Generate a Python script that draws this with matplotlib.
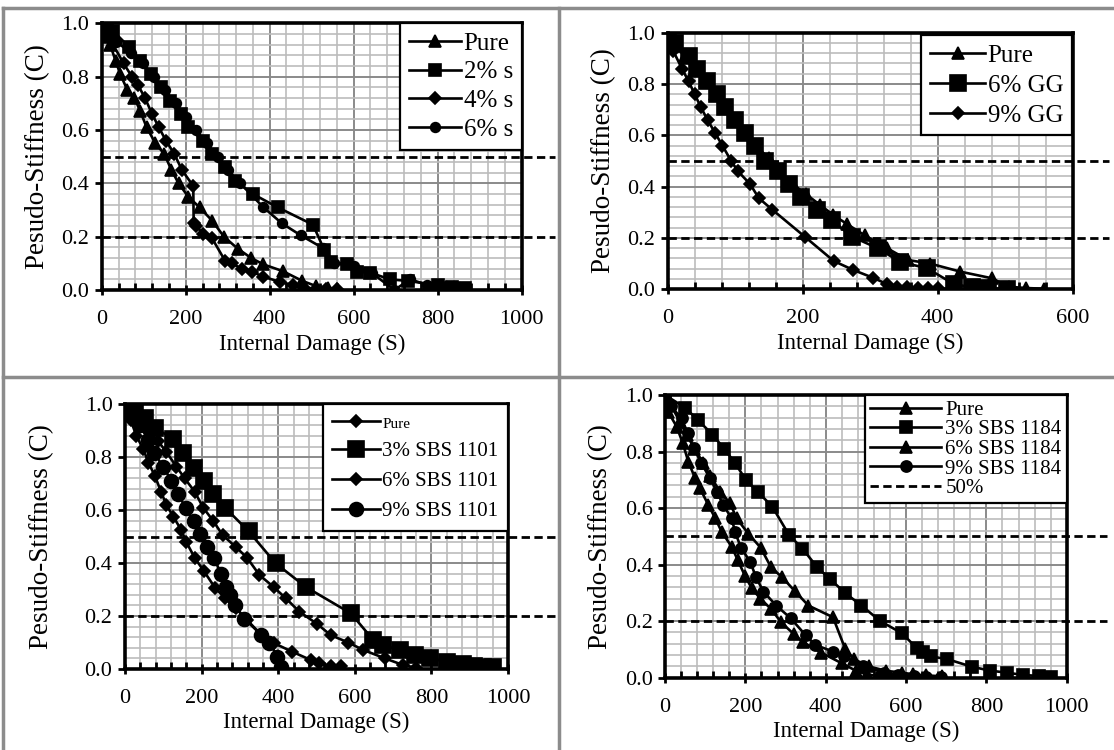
import matplotlib
matplotlib.use('Agg')
import matplotlib.pyplot as plt
from matplotlib.lines import Line2D
from matplotlib.ticker import MultipleLocator

plt.rcParams['font.family'] = ['Liberation Serif', 'DejaVu Serif']

# ---- panel a: sulfur ----
a_pure_s = [0, 10, 20, 33, 44, 61, 78, 92, 107, 128, 149, 166, 183, 206, 233, 263, 291, 324, 356, 385, 431, 478, 510, 540, 560]
a_pure_c = [1.0, 0.95, 0.92, 0.86, 0.81, 0.75, 0.72, 0.67, 0.61, 0.55, 0.51, 0.45, 0.40, 0.35, 0.31, 0.26, 0.20, 0.155, 0.12, 0.096, 0.071, 0.034, 0.015, 0.008, 0.005]
a_2_s = [0, 12, 28, 66, 91, 117, 141, 163, 188, 206, 242, 262, 294, 318, 360, 419, 503, 530, 545, 583, 607, 640, 686, 730, 800, 835, 866]
a_2_c = [1.0, 0.98, 0.97, 0.91, 0.86, 0.81, 0.76, 0.71, 0.66, 0.61, 0.56, 0.51, 0.46, 0.41, 0.36, 0.31, 0.245, 0.15, 0.105, 0.098, 0.069, 0.065, 0.04, 0.034, 0.018, 0.012, 0.008]
a_4_s = [0, 8, 20, 52, 72, 86, 103, 120, 136, 153, 173, 191, 218, 219, 225, 242, 262, 294, 310, 333, 357, 385, 425, 456, 480, 510, 535, 560]
a_4_c = [1.0, 0.97, 0.94, 0.85, 0.80, 0.77, 0.72, 0.66, 0.61, 0.56, 0.51, 0.45, 0.39, 0.25, 0.24, 0.21, 0.196, 0.109, 0.10, 0.08, 0.069, 0.05, 0.03, 0.019, 0.01, 0.005, 0.003, 0.002]
a_6_s = [0, 15, 35, 70, 98, 124, 150, 176, 200, 224, 250, 276, 300, 330, 385, 429, 474, 526, 552, 600, 643, 697, 734, 774, 820, 850]
a_6_c = [1.0, 0.96, 0.93, 0.89, 0.85, 0.80, 0.75, 0.70, 0.65, 0.60, 0.55, 0.50, 0.45, 0.40, 0.31, 0.25, 0.205, 0.158, 0.10, 0.09, 0.064, 0.0, 0.04, 0.02, 0.015, 0.01]
a_labels = ['Pure', '2% s', '4% s', '6% s']

# ---- panel b: GG ----
b_pure_s = [0, 10, 25, 40, 55, 70, 85, 100, 115, 130, 150, 165, 185, 205, 225, 245, 265, 292, 325, 356, 389, 433, 480, 505, 530, 558]
b_pure_c = [1.0, 0.95, 0.91, 0.86, 0.81, 0.76, 0.71, 0.66, 0.61, 0.56, 0.51, 0.46, 0.41, 0.37, 0.33, 0.29, 0.255, 0.21, 0.16, 0.114, 0.10, 0.069, 0.043, 0.01, 0.005, 0.002]
b_6_s = [0, 11, 31, 44, 58, 73, 85, 100, 115, 129, 144, 164, 179, 197, 221, 243, 273, 311, 344, 384, 424, 450, 475, 503]
b_6_c = [1.0, 0.96, 0.91, 0.86, 0.81, 0.76, 0.71, 0.66, 0.61, 0.56, 0.50, 0.46, 0.41, 0.36, 0.31, 0.27, 0.205, 0.16, 0.107, 0.082, 0.02, 0.008, 0.004, 0.002]
b_9_s = [0, 8, 21, 31, 40, 49, 59, 70, 81, 94, 104, 122, 135, 155, 203, 246, 275, 304, 325, 340, 355, 370, 385, 400]
b_9_c = [1.0, 0.93, 0.86, 0.81, 0.76, 0.71, 0.66, 0.61, 0.56, 0.50, 0.46, 0.41, 0.355, 0.31, 0.205, 0.11, 0.075, 0.045, 0.02, 0.01, 0.008, 0.006, 0.005, 0.004]
b_labels = ['Pure', '6% GG', '9% GG']

# ---- panel c: SBS 1101 ----
c_pure_s = [0, 15, 30, 48, 61, 78, 94, 108, 126, 147, 160, 182, 206, 236, 260, 290, 319, 355, 390, 437, 485, 507, 537, 563]
c_pure_c = [1.0, 0.94, 0.88, 0.83, 0.78, 0.73, 0.67, 0.62, 0.576, 0.525, 0.48, 0.42, 0.37, 0.305, 0.27, 0.23, 0.185, 0.13, 0.097, 0.065, 0.034, 0.021, 0.013, 0.01]
c_3_s = [0, 25, 52, 79, 125, 152, 179, 206, 231, 261, 323, 393, 472, 590, 648, 674, 718, 757, 796, 840, 883, 910, 935, 960]
c_3_c = [1.0, 0.97, 0.95, 0.91, 0.87, 0.815, 0.76, 0.71, 0.66, 0.61, 0.52, 0.40, 0.31, 0.21, 0.11, 0.09, 0.072, 0.053, 0.04, 0.028, 0.02, 0.012, 0.008, 0.006]
c_6_s = [0, 15, 35, 60, 87, 108, 134, 156, 182, 204, 230, 255, 290, 319, 351, 388, 420, 455, 502, 537, 583, 622, 679, 726, 760]
c_6_c = [1.0, 0.97, 0.93, 0.90, 0.86, 0.82, 0.765, 0.72, 0.67, 0.61, 0.56, 0.506, 0.46, 0.42, 0.355, 0.31, 0.267, 0.217, 0.17, 0.128, 0.10, 0.072, 0.04, 0.015, 0.005]
c_9_s = [0, 20, 40, 61, 76, 100, 121, 139, 158, 179, 197, 215, 232, 251, 264, 273, 286, 312, 355, 377, 398, 407]
c_9_c = [1.0, 0.96, 0.92, 0.865, 0.815, 0.765, 0.71, 0.66, 0.61, 0.56, 0.51, 0.46, 0.42, 0.36, 0.31, 0.28, 0.24, 0.19, 0.13, 0.10, 0.047, 0.009]
c_labels = ['Pure', '3% SBS 1101', '6% SBS 1101', '9% SBS 1101']

# ---- panel d: SBS 1184 ----
d_pure_s = [0, 8, 29, 44, 58, 75, 87, 108, 125, 141, 166, 181, 199, 216, 237, 264, 289, 320, 344, 388, 440, 476, 502, 530, 560, 585]
d_pure_c = [1.0, 0.94, 0.888, 0.83, 0.764, 0.705, 0.67, 0.61, 0.564, 0.516, 0.463, 0.416, 0.36, 0.316, 0.28, 0.243, 0.196, 0.155, 0.125, 0.089, 0.051, 0.024, 0.012, 0.006, 0.004, 0.003]
d_3_s = [0, 50, 83, 118, 147, 174, 201, 232, 267, 309, 342, 379, 410, 448, 489, 536, 590, 627, 643, 662, 702, 763, 809, 850, 890, 930, 960]
d_3_c = [1.0, 0.955, 0.91, 0.86, 0.81, 0.76, 0.70, 0.656, 0.605, 0.504, 0.457, 0.39, 0.35, 0.30, 0.255, 0.20, 0.157, 0.104, 0.09, 0.075, 0.066, 0.039, 0.025, 0.018, 0.01, 0.006, 0.004]
d_6_s = [0, 12, 37, 54, 73, 95, 112, 137, 162, 178, 207, 238, 264, 291, 324, 357, 418, 449, 471, 507, 551, 590, 617, 650, 690]
d_6_c = [1.0, 0.97, 0.906, 0.86, 0.81, 0.76, 0.715, 0.658, 0.617, 0.564, 0.51, 0.46, 0.39, 0.356, 0.305, 0.255, 0.214, 0.10, 0.065, 0.04, 0.024, 0.018, 0.012, 0.008, 0.005]
d_9_s = [0, 15, 41, 56, 71, 90, 112, 129, 145, 166, 174, 189, 212, 226, 245, 277, 313, 350, 374, 419, 445, 493, 546, 581, 620, 650, 687]
d_9_c = [1.0, 0.96, 0.917, 0.865, 0.814, 0.76, 0.705, 0.658, 0.61, 0.564, 0.516, 0.46, 0.41, 0.357, 0.304, 0.255, 0.21, 0.15, 0.116, 0.092, 0.077, 0.04, 0.018, 0.008, 0.005, 0.004, 0.003]
d_labels = ['Pure', '3% SBS 1184', '6% SBS 1184', '9% SBS 1184', '50%']

ref_levels = [0.5, 0.2]

fig = plt.figure(figsize=(11.14, 7.5), dpi=100)

# axes boxes in figure fractions
ax_a = fig.add_axes([0.0913, 0.6133, 0.377, 0.3556])
ax_b = fig.add_axes([0.5994, 0.6143, 0.3636, 0.3421])
ax_c = fig.add_axes([0.1122, 0.108, 0.3438, 0.3529])
ax_d = fig.add_axes([0.597, 0.0964, 0.3606, 0.3769])


def style(ax, xmax, ext, ylpad=8):
    ax.set_xlim(0, xmax)
    ax.set_ylim(0, 1)
    ax.xaxis.set_major_locator(MultipleLocator(200))
    ax.xaxis.set_minor_locator(MultipleLocator(40))
    ax.yaxis.set_major_locator(MultipleLocator(0.2))
    ax.yaxis.set_minor_locator(MultipleLocator(0.04))
    ax.yaxis.set_major_formatter('{x:.1f}')
    ax.grid(which='major', color='#8a8a8a', lw=1.4)
    ax.grid(which='minor', color='#bcbcbc', lw=1.2)
    ax.set_axisbelow(True)
    for sp in ax.spines.values():
        sp.set_linewidth(2.6)
    ax.tick_params(axis='x', which='major', direction='inout', length=7, width=2,
                   labelsize=16, pad=11)
    ax.tick_params(axis='x', which='minor', direction='in', length=5, width=2)
    ax.tick_params(axis='y', which='major', direction='out', length=5, width=2,
                   labelsize=16, pad=4)
    ax.tick_params(axis='y', which='minor', length=0)
    ax.set_xlabel('Internal Damage (S)', fontsize=16.5, labelpad=3)
    ax.set_ylabel('Pesudo-Stiffness (C)', fontsize=19.5, labelpad=ylpad)
    lines = []
    for lev in ref_levels:
        l = ax.axhline(lev, xmin=0, xmax=ext, color='k', lw=2,
                       ls=(0, (3, 1.6)), clip_on=False, zorder=3)
        lines.append(l)
    return lines


def leg_style(leg):
    f = leg.get_frame()
    f.set_edgecolor('k')
    f.set_linewidth(1.6)


kw = dict(color='k', lw=1.9, mew=1.2)

# panel a
style(ax_a, 1000, 1.08)
ax_a.plot(a_pure_s, a_pure_c, '-^', ms=9, label=a_labels[0], **kw)
ax_a.plot(a_2_s, a_2_c, '-s', ms=8, label=a_labels[1], **kw)
ax_a.plot(a_4_s, a_4_c, '-D', ms=6, label=a_labels[2], **kw)
ax_a.plot(a_6_s, a_6_c, '-o', ms=7, label=a_labels[3], **kw)
lg = ax_a.legend(loc='upper right', bbox_to_anchor=(1.0, 1.0), borderaxespad=0,
                 fontsize=18, fancybox=False, framealpha=1, handlelength=2.1,
                 handletextpad=0.1, labelspacing=0.25, borderpad=0.35)
leg_style(lg)

# panel b
style(ax_b, 600, 1.09)
ax_b.plot(b_pure_s, b_pure_c, '-^', ms=8, label=b_labels[0], **kw)
ax_b.plot(b_6_s, b_6_c, '-s', ms=11, label=b_labels[1], **kw)
ax_b.plot(b_9_s, b_9_c, '-D', ms=6, label=b_labels[2], **kw)
lg = ax_b.legend(loc='upper right', bbox_to_anchor=(0.998, 0.99), borderaxespad=0,
                 fontsize=18, fancybox=False, framealpha=1, handlelength=2.2,
                 handletextpad=0.1, labelspacing=0.3, borderpad=0.35)
leg_style(lg)

# panel c
style(ax_c, 1000, 1.13, ylpad=22)
ax_c.plot(c_pure_s, c_pure_c, '-D', ms=6.5, label=c_labels[0], **kw)
ax_c.plot(c_3_s, c_3_c, '-s', ms=11, label=c_labels[1], **kw)
ax_c.plot(c_6_s, c_6_c, '-D', ms=6.5, label=c_labels[2], **kw)
ax_c.plot(c_9_s, c_9_c, '-o', ms=10, label=c_labels[3], **kw)
lg = ax_c.legend(loc='upper right', bbox_to_anchor=(1.0, 1.0), borderaxespad=0,
                 fontsize=15, fancybox=False, framealpha=1, handlelength=2.3,
                 handletextpad=0.1, labelspacing=0.5, borderpad=0.45)
lg.get_texts()[0].set_fontsize(11)
leg_style(lg)

# panel d
ref_d = style(ax_d, 1000, 1.1)
ref_d[0].set_label(d_labels[4])
ax_d.plot(d_pure_s, d_pure_c, '-^', ms=8, label=d_labels[0], **kw)
ax_d.plot(d_3_s, d_3_c, '-s', ms=9, label=d_labels[1], **kw)
ax_d.plot(d_6_s, d_6_c, '-^', ms=8, label=d_labels[2], **kw)
ax_d.plot(d_9_s, d_9_c, '-o', ms=8, label=d_labels[3], **kw)
h, l = ax_d.get_legend_handles_labels()
order = [1, 2, 3, 4, 0]
lg = ax_d.legend([h[i] for i in order], [l[i] for i in order], loc='upper right',
                 bbox_to_anchor=(1.0, 1.0), borderaxespad=0,
                 fontsize=15, fancybox=False, framealpha=1, handlelength=3.4,
                 handletextpad=0.2, labelspacing=0.0, borderpad=0.25)
leg_style(lg)

# panel borders like a table
grey = '#8c8c8c'
for xs, ys in [([0.003, 0.003], [0, 0.99]),
               ([0.502, 0.502], [0, 0.99]),
               ([0.003, 1.0], [0.99, 0.99]),
               ([0.003, 1.0], [0.4973, 0.4973])]:
    fig.add_artist(Line2D(xs, ys, color=grey, lw=2.5, transform=fig.transFigure))

fig.savefig('out.png', dpi=100)
